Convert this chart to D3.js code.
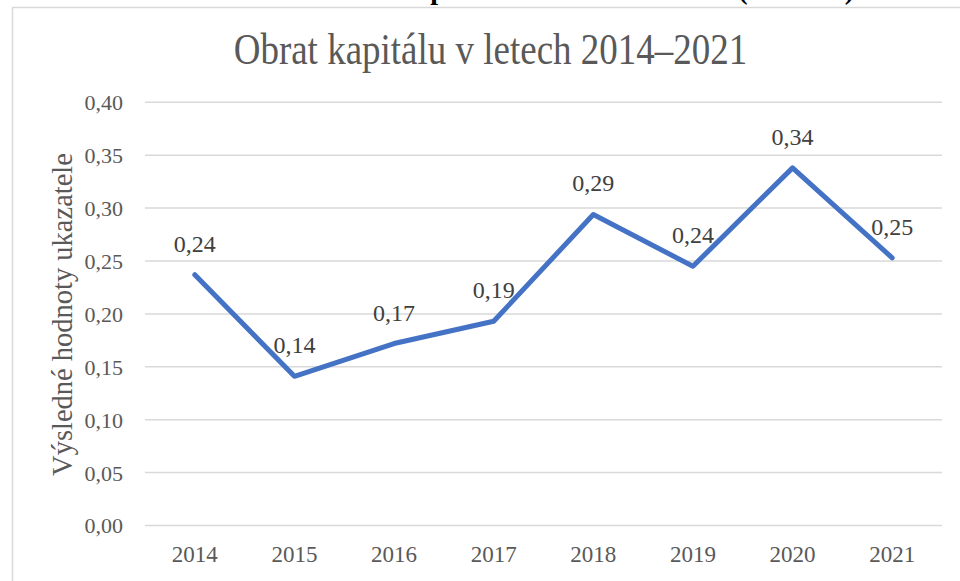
<!DOCTYPE html>
<html><head><meta charset="utf-8">
<script src="https://cdn.jsdelivr.net/npm/d3@7"></script>
<style>body{margin:0;background:#fff;}svg{display:block;}</style>
</head><body><svg id="c" width="960" height="581"></svg>
<script>
const years = ["2014","2015","2016","2017","2018","2019","2020","2021"];
const values = [0.237, 0.141, 0.172, 0.193, 0.294, 0.245, 0.338, 0.253];
const valueLabels = ["0,24","0,14","0,17","0,19","0,29","0,24","0,34","0,25"];
const yTicks = [0, 0.05, 0.10, 0.15, 0.20, 0.25, 0.30, 0.35, 0.40];
const titleText = "Obrat kapitálu v letech 2014–2021";
const yAxisTitle = "Výsledné hodnoty ukazatele";
const captionText = "Graf 7: Obrat kapitálu v letech 2014–2021 (v tis. Kč)";

const FONT = "Tinos, 'Liberation Serif', serif";
const svg = d3.select("#c");
// cut-off caption above chart (only its lower edge is visible, as in the reference)
svg.append("text").attr("x", 540).attr("y", -1).attr("text-anchor","middle")
  .attr("font-family",FONT).attr("font-size", 28).attr("font-weight","bold").attr("fill","#000").text(captionText);
// chart border
svg.append("rect").attr("x",12.5).attr("y",7.5).attr("width",1000).attr("height",700)
  .attr("fill","#fff").attr("stroke","#d9d9d9").attr("stroke-width",1.5);

const x = d3.scaleBand().domain(years).range([145, 942]);
const y = d3.scaleLinear().domain([0, 0.4]).range([525.5, 102.3]);

svg.append("g").selectAll("line").data(yTicks).join("line")
  .attr("x1",145).attr("x2",942).attr("y1",d=>y(d)).attr("y2",d=>y(d))
  .attr("stroke","#d9d9d9").attr("stroke-width",1.5);

const yAxis = d3.axisLeft(y).tickValues(yTicks).tickSize(0).tickPadding(0)
  .tickFormat(d => d3.format(".2f")(d).replace(".", ","));
const ya = svg.append("g").attr("transform","translate(123,0)").call(yAxis)
  .attr("font-family",FONT).attr("font-size",22);
ya.select(".domain").remove();
ya.selectAll("text").attr("fill","#595959").attr("dy","0.34em");

const xAxis = d3.axisBottom(x).tickSize(0).tickPadding(0);
const xa = svg.append("g").attr("transform","translate(0,561.5)").call(xAxis)
  .attr("font-family",FONT).attr("font-size",23);
xa.select(".domain").remove();
xa.selectAll("text").attr("fill","#595959").attr("dy",0);

const line = d3.line().x((d,i)=>x(years[i])+x.bandwidth()/2).y(d=>y(d));
svg.append("path").datum(values).attr("d",line).attr("fill","none")
  .attr("stroke","#4472C4").attr("stroke-width",5).attr("stroke-linejoin","round").attr("stroke-linecap","round");

svg.selectAll("text.lbl").data(values).join("text").attr("class","lbl")
  .attr("x",(d,i)=>x(years[i])+x.bandwidth()/2).attr("y",d=>y(d)-23)
  .attr("text-anchor","middle").attr("font-family",FONT).attr("font-size",24).attr("fill","#404040")
  .text((d,i)=>valueLabels[i]);

svg.append("text").attr("transform","translate(490.5,64) scale(1,1.2)").attr("text-anchor","middle")
  .attr("font-family",FONT).attr("font-size",37).attr("fill","#595959").text(titleText);

svg.append("text").attr("transform","translate(72,314.5) rotate(-90)").attr("text-anchor","middle")
  .attr("font-family",FONT).attr("font-size",28.5).attr("fill","#595959").text(yAxisTitle);
</script></body></html>
